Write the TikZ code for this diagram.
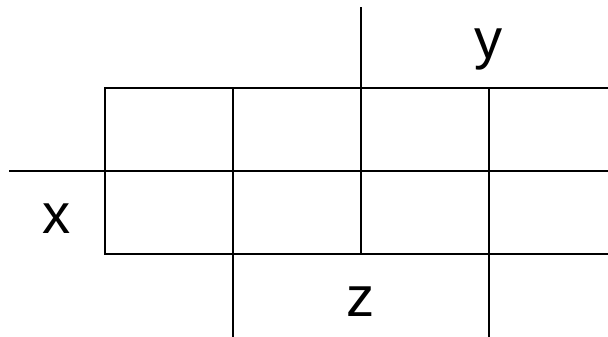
\documentclass[tikz,border=0pt]{standalone}
\usepackage{fontspec}
\setmainfont{Liberation Sans}

\begin{document}
\begin{tikzpicture}[
    x=0.02cm, y=-0.02cm,
    every node/.style={font=\fontsize{32}{38}\selectfont, inner sep=0pt},
    gridline/.style={line width=1.2pt, line cap=rect},
    varlabel/.style={anchor=base},
]
\useasboundingbox (0,0) rectangle (608,336);

%% ── Map rows ─────────────────────────────────────────────────────────────────
\draw[gridline] (105,88)  -- (608,88);
\draw[gridline] (10,171)  -- (608,171);
\draw[gridline] (105,254) -- (608,254);

%% ── Map columns ──────────────────────────────────────────────────────────────
\draw[gridline] (105,88) -- (105,254);
\draw[gridline] (233,88) -- (233,336);
\draw[gridline] (361,8)  -- (361,254);
\draw[gridline] (489,88) -- (489,336);

%% ── Variable labels ──────────────────────────────────────────────────────────
\node[varlabel] (ylab) at (489,58)  {y};
\node[varlabel] (xlab) at (57,233)  {x};
\node[varlabel] (zlab) at (361,316) {z};

\end{tikzpicture}
\end{document}
